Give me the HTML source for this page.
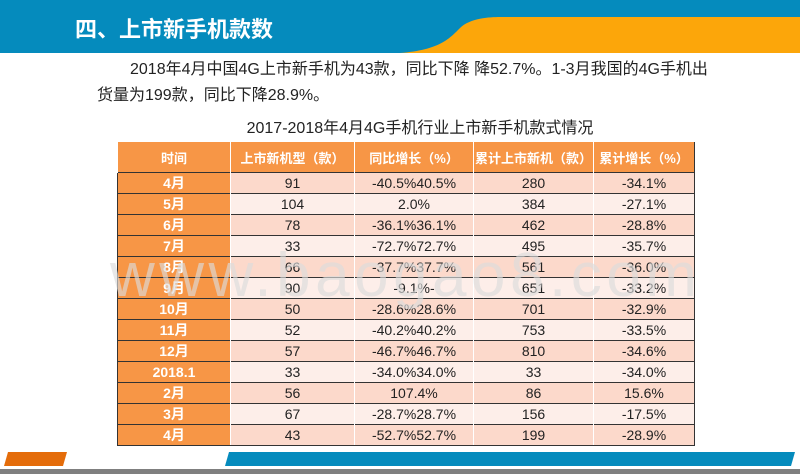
<!DOCTYPE html>
<html><head><meta charset="utf-8">
<style>
body{margin:0;width:800px;height:474px;overflow:hidden;background:#fff;position:relative;font-family:"Liberation Sans","Noto Sans CJK SC",sans-serif;}
.abs{position:absolute;}
table{border-collapse:collapse;table-layout:fixed;position:absolute;left:117px;top:142px;width:577px;}
td{height:20px;padding:0;text-align:center;font-size:14px;color:#222;border-top:1px solid #333;border-left:1px solid #fff;}
td:last-child{border-right:1px solid #333;}
tr:last-child td{border-bottom:1px solid #333;}
td.m{background:#f79646;color:#fff;font-weight:bold;border-left:1px solid #333;}
tr.a td:not(.m){background:#fcd9cb;}
tr.b td:not(.m){background:#fdeee9;}
tr.h td{background:#f79646;color:#fff;font-weight:bold;height:30px;font-size:13px;border-top:none;}
</style></head><body>
<svg class="abs" style="left:0;top:0" width="800" height="54">
<rect x="0" y="0" width="800" height="53" fill="#058bbd"/>
<path d="M400 53 C440 50 450 38 460 28 C470 18 490 17 500 17 L800 17 L800 53 Z" fill="#fca60a"/>
</svg>
<div class="abs" style="left:75px;top:12px;font-size:22px;color:#fff;font-weight:bold;">四、上市新手机款数</div>
<div class="abs" style="left:130px;top:57px;font-size:16px;color:#222;line-height:26px;width:680px;white-space:nowrap;">2018年4月中国4G上市新手机为43款，同比下降 降52.7%。1-3月我国的4G手机出</div>
<div class="abs" style="left:97px;top:83px;font-size:16px;color:#222;line-height:26px;">货量为199款，同比下降28.9%。</div>
<div class="abs" style="left:0;width:840px;text-align:center;top:114px;font-size:16px;color:#222;">2017-2018年4月4G手机行业上市新手机款式情况</div>
<table>
<colgroup><col style="width:113px"><col style="width:124px"><col style="width:119px"><col style="width:120px"><col style="width:101px"></colgroup>
<tr class="h"><td>时间</td><td>上市新机型（款）</td><td>同比增长（%）</td><td>累计上市新机（款）</td><td>累计增长（%）</td></tr>
<tr class="a"><td class="m">4月</td><td>91</td><td>-40.5%40.5%</td><td>280</td><td>-34.1%</td></tr>
<tr class="b"><td class="m">5月</td><td>104</td><td>2.0%</td><td>384</td><td>-27.1%</td></tr>
<tr class="a"><td class="m">6月</td><td>78</td><td>-36.1%36.1%</td><td>462</td><td>-28.8%</td></tr>
<tr class="b"><td class="m">7月</td><td>33</td><td>-72.7%72.7%</td><td>495</td><td>-35.7%</td></tr>
<tr class="a"><td class="m">8月</td><td>66</td><td>-37.7%37.7%</td><td>561</td><td>-36.0%</td></tr>
<tr class="b"><td class="m">9月</td><td>90</td><td>-9.1%-</td><td>651</td><td>-33.2%</td></tr>
<tr class="a"><td class="m">10月</td><td>50</td><td>-28.6%28.6%</td><td>701</td><td>-32.9%</td></tr>
<tr class="b"><td class="m">11月</td><td>52</td><td>-40.2%40.2%</td><td>753</td><td>-33.5%</td></tr>
<tr class="a"><td class="m">12月</td><td>57</td><td>-46.7%46.7%</td><td>810</td><td>-34.6%</td></tr>
<tr class="b"><td class="m">2018.1</td><td>33</td><td>-34.0%34.0%</td><td>33</td><td>-34.0%</td></tr>
<tr class="a"><td class="m">2月</td><td>56</td><td>107.4%</td><td>86</td><td>15.6%</td></tr>
<tr class="b"><td class="m">3月</td><td>67</td><td>-28.7%28.7%</td><td>156</td><td>-17.5%</td></tr>
<tr class="a"><td class="m">4月</td><td>43</td><td>-52.7%52.7%</td><td>199</td><td>-28.9%</td></tr>
</table>
<div class="abs" style="left:110px;top:240px;font-size:62px;letter-spacing:4.5px;color:rgba(220,220,220,0.65);white-space:nowrap;">www.baogao8.com</div>
<svg class="abs" style="left:0;top:450px" width="800" height="24">
<polygon points="8,2 67,2 63,16 4,16" fill="#e46c0a"/>
<polygon points="229,2 795,2 791,16 225,16" fill="#058bbd"/>
<rect x="0" y="19" width="800" height="5" fill="#7f7f7f"/>
</svg>
</body></html>
